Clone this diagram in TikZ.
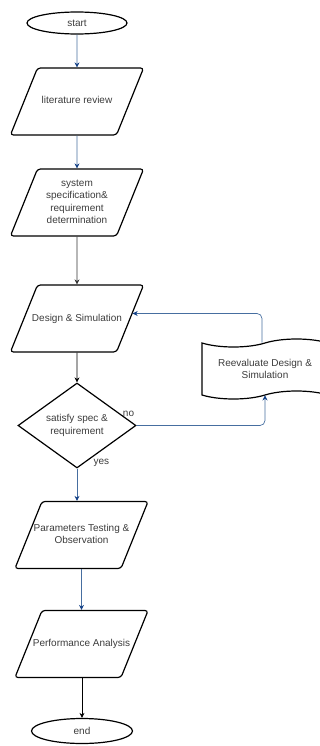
\documentclass[tikz,border=0pt]{standalone}
\usepackage{fontspec}
\setmainfont{Liberation Sans}
\usetikzlibrary{shapes.geometric,shapes.symbols,arrows.meta}

\definecolor{flowblue}{RGB}{70,110,160}
\definecolor{headblue}{RGB}{20,65,135}
\definecolor{textgray}{RGB}{60,60,60}

% fixed text box for the slanted boxes, lines centred even when too wide
\newcommand{\iotext}[1]{\vbox to 67pt{\vss\hbox to 79pt{\hss\begin{tabular}{@{}c@{}}#1\end{tabular}\hss}\vss}}

\tikzset{
  terminal/.style={draw, line width=1.2pt, ellipse, minimum width=100pt, minimum height=22pt, inner sep=0pt},
  iobox/.style={draw, line width=1.2pt, trapezium, trapezium left angle=68, trapezium right angle=112,
    rounded corners=3pt, inner sep=0pt},
  decision/.style={draw, line width=1.2pt, diamond, minimum width=118pt, minimum height=85pt, inner sep=0pt,
    aspect=1.4, align=center},
  wavebox/.style={draw, line width=1.2pt, tape, tape bend top=in and out, tape bend bottom=in and out,
    tape bend height=8pt, minimum width=126pt, minimum height=60pt, inner sep=0pt, align=center},
  every node/.style={font=\fontsize{10}{12.5}\selectfont, text=textgray},
  line/.style={-{Stealth[length=5pt,width=5pt]}, line width=0.7pt},
  blueline/.style={-{Stealth[length=5pt,width=5pt,color=headblue]}, line width=0.7pt, flowblue},
}

\begin{document}
\begin{tikzpicture}[x=1pt,y=-1pt]
        \useasboundingbox (0,0) rectangle (320,746);
        \node[terminal] (start) at (77,23) {start};
        \node[iobox] (lit) at (77,101.5) {\iotext{literature review}};
        \node[iobox] (spec) at (77,202.5) {\iotext{system\\specification\&\\requirement\\determination}};
        \node[iobox] (design) at (77,318.5) {\iotext{Design \& Simulation}};
        \node[decision] (check) at (77,425.5) {satisfy spec \&\\requirement};
        \node[wavebox] (reeval) at (265,369) {Reevaluate Design \&\\Simulation};
        \node[iobox] (param) at (81.5,535) {\iotext{Parameters Testing \&\\Observation}};
        \node[iobox] (perf) at (81.5,644) {\iotext{Performance Analysis}};
        \node[terminal, minimum width=101pt, minimum height=25pt] (end) at (82,731) {end};
        \draw[blueline] (start) -- (lit);
        \draw[blueline] (lit) -- (spec);
        \draw[line, black!80] (spec) -- (design);
        \draw[line, black] (design) -- (check);
        \draw[blueline] (check.south) -- (check.south |- param.north);
        \draw[blueline] (param.south -| perf.north) -- (perf.north);
        \draw[line, black] (perf.south -| end.north) -- (end);
        % no branch and feedback loop
        \draw[blueline, rounded corners=5pt] (check.east) -| (reeval.south);
        \draw[blueline, rounded corners=5pt] ([xshift=-3pt]reeval.north) |- ([xshift=2pt,yshift=5pt]design.east);
        \node[anchor=south east] (nolabel) at ([xshift=1pt,yshift=5pt]check.east) {no};
        \node[anchor=west] (yeslabel) at ([xshift=13pt,yshift=6pt]check.south) {yes};
    \end{tikzpicture}
\end{document}
